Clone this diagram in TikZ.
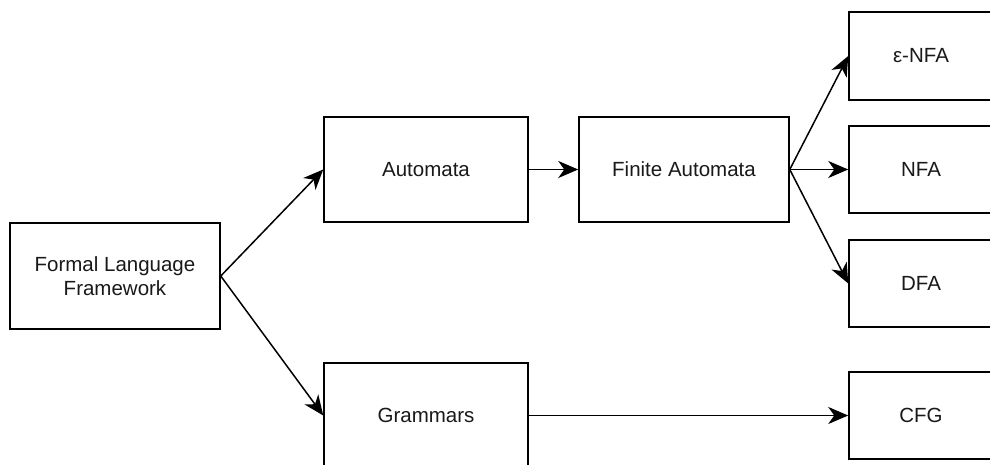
\documentclass[tikz,border=0pt]{standalone}
\usepackage{fontspec}
\setmainfont{Liberation Sans}
\usetikzlibrary{arrows.meta}
\begin{document}
\begin{tikzpicture}[x=1pt,y=1pt,
  box/.style={draw=black, line width=1.5pt, rectangle, inner sep=0pt, align=center,
    text=black!90, font=\fontsize{20.5}{24.6}\selectfont},
  link/.style={draw=black, line width=1.5pt, -{Stealth[length=20pt,width=17pt,inset=6pt]}}]
  \useasboundingbox (0,0) rectangle (990,464);
  \clip (0,0) rectangle (990,464);
  % root
  \node[box, minimum width=210, minimum height=106] (flf) at (115,188) {Formal Language\\Framework};
  % second level
  \node[box, minimum width=204, minimum height=105] (aut) at (426,294.5) {Automata};
  \node[box, minimum width=204, minimum height=105] (gram) at (426,48.5) {Grammars};
  % third level
  \node[box, minimum width=210, minimum height=105] (fa) at (684,294.5) {Finite Automata};
  % leaves
  \node[box, minimum width=144, minimum height=88] (enfa) at (921,408) {ε-NFA};
  \node[box, minimum width=144, minimum height=87] (nfa) at (921,294.5) {NFA};
  \node[box, minimum width=144, minimum height=87] (dfa) at (921,180.5) {DFA};
  \node[box, minimum width=144, minimum height=87] (cfg) at (921,48.5) {CFG};
  % connectors
  \draw[link] (flf.east) -- (aut.west);
  \draw[link] (flf.east) -- (gram.west);
  \draw[link] (aut.east) -- (fa.west);
  \draw[link] (fa.east) -- (enfa.west);
  \draw[link] (fa.east) -- (nfa.west);
  \draw[link] (fa.east) -- (dfa.west);
  \draw[link] (gram.east) -- (cfg.west);
\end{tikzpicture}
\end{document}
